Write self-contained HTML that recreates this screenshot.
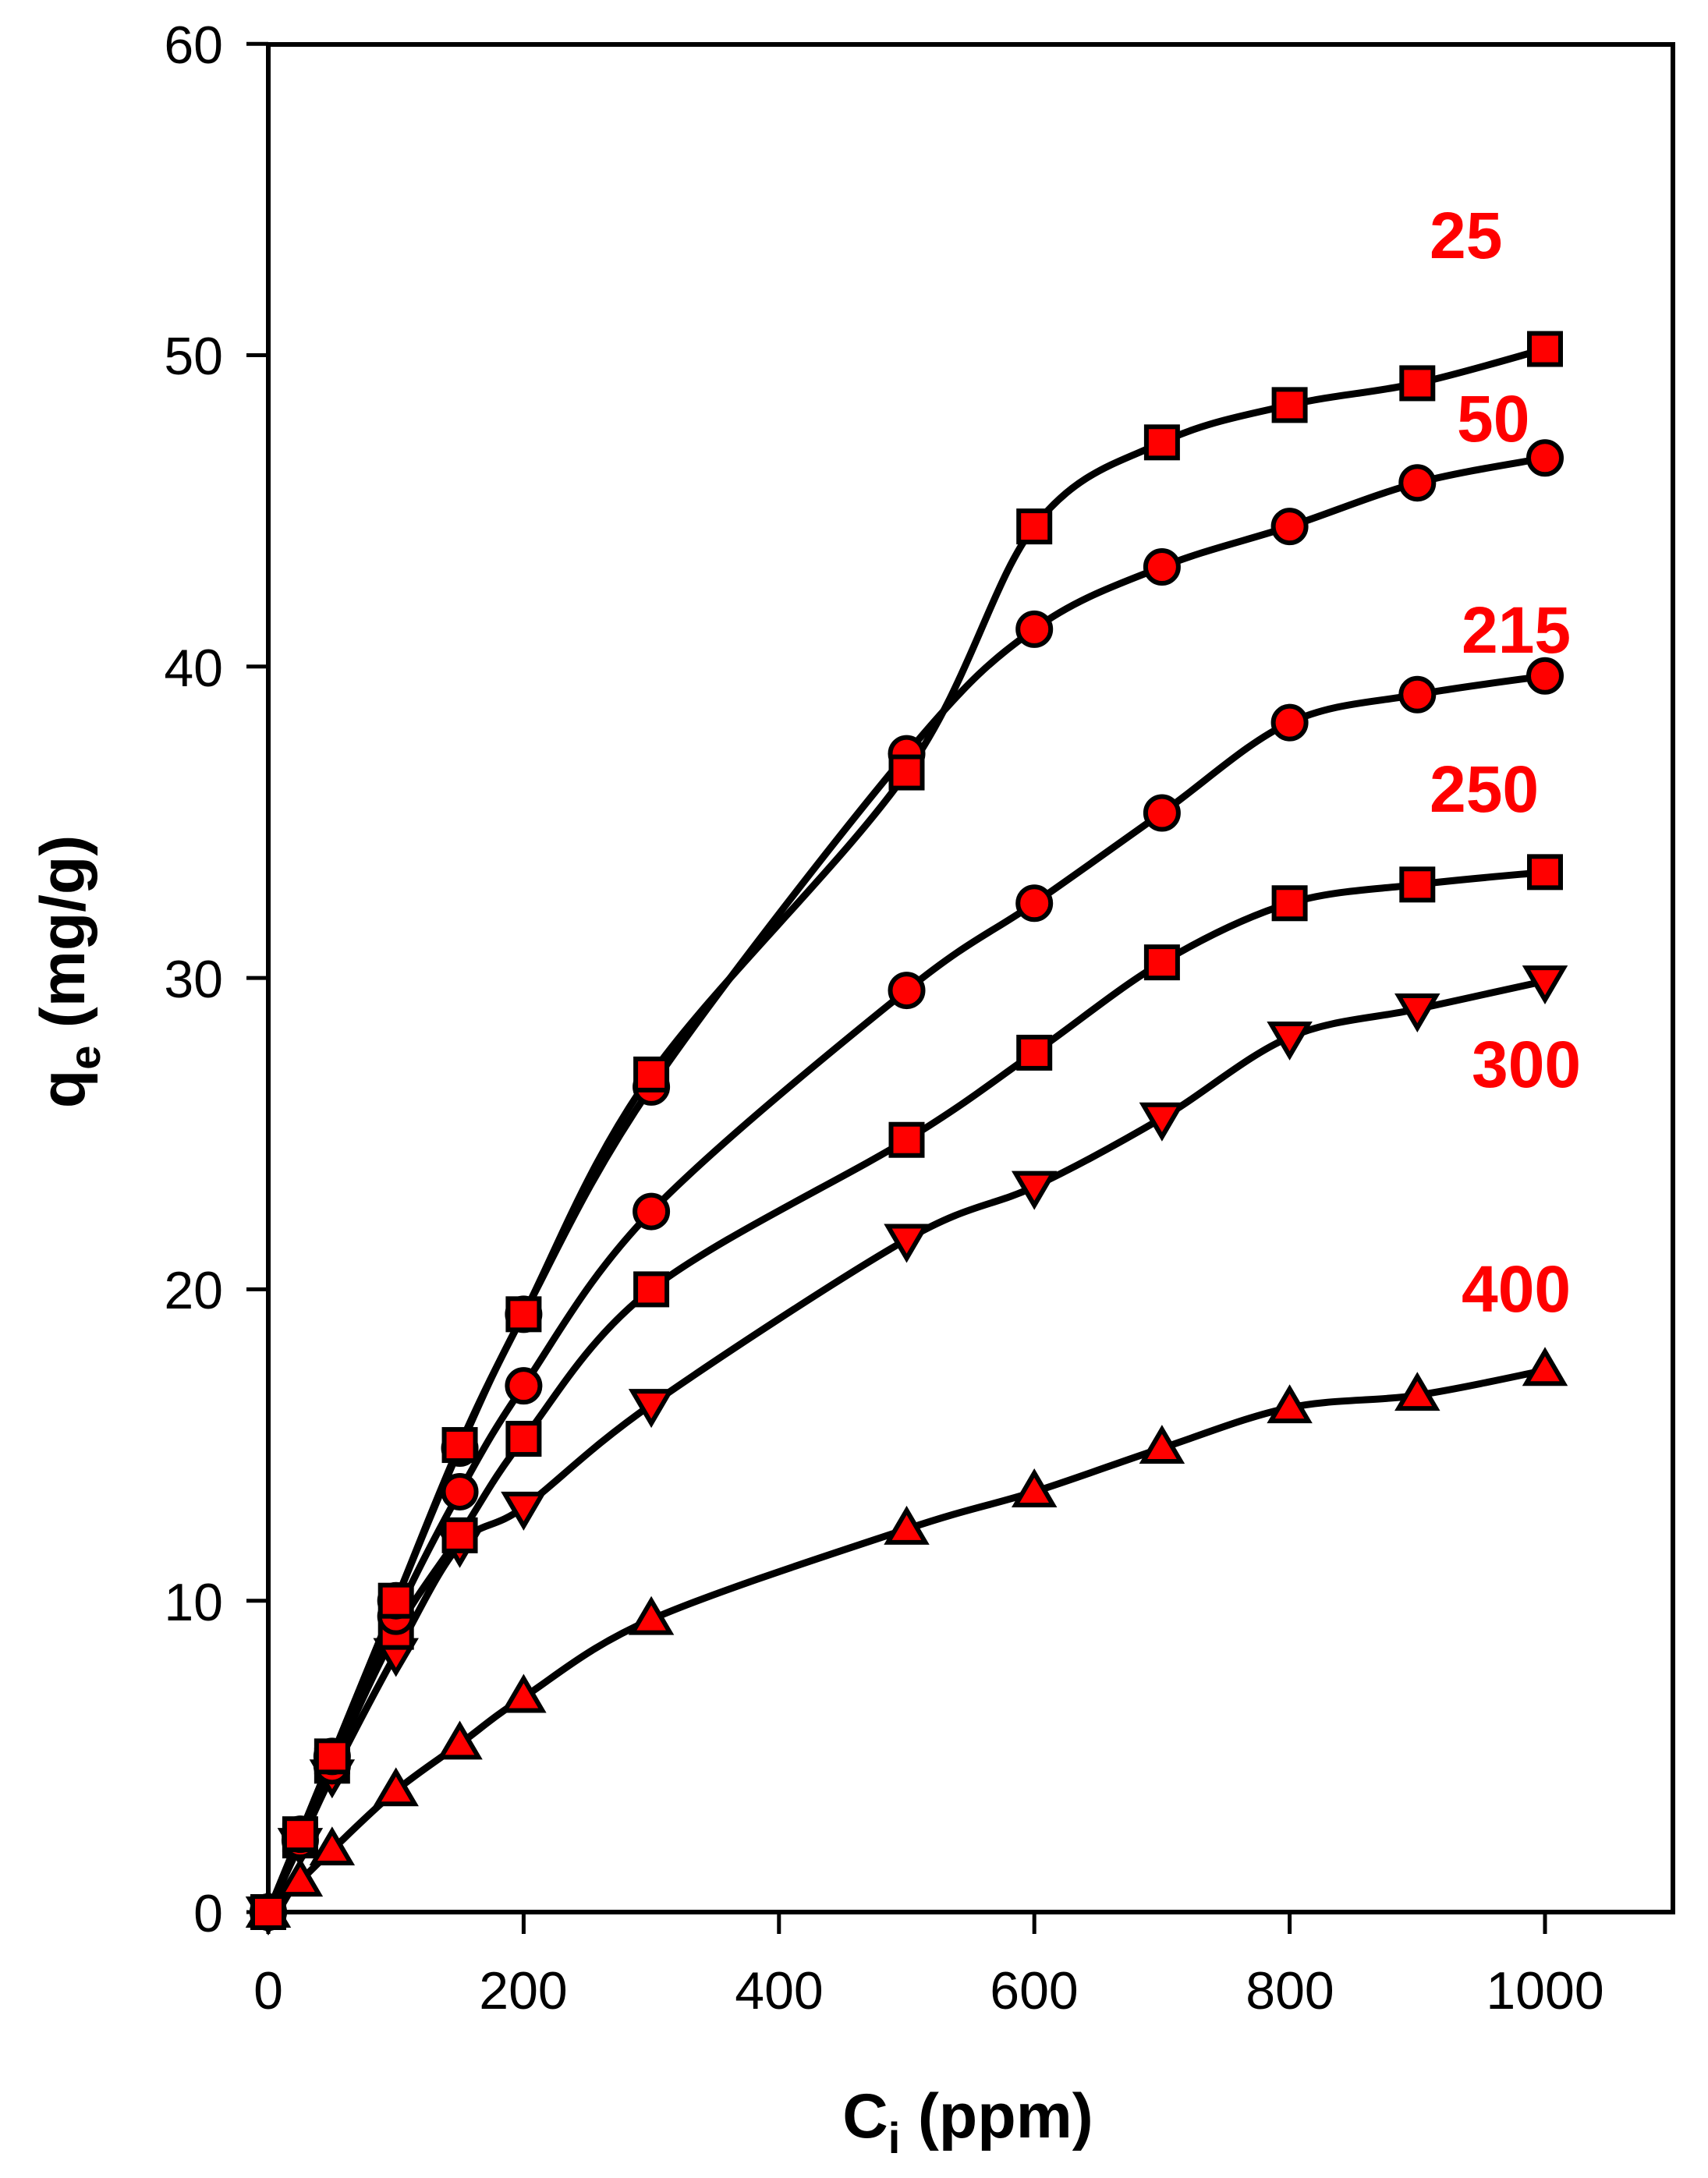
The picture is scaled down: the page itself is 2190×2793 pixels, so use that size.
<!DOCTYPE html>
<html><head><meta charset="utf-8"><style>
html,body{margin:0;padding:0;background:#fff;}
svg{display:block;}
text{font-family:"Liberation Sans",Arial,sans-serif;}
</style></head><body>
<svg id="s" width="2190" height="2793" viewBox="0 0 2190 2793" xmlns="http://www.w3.org/2000/svg">
<rect x="0" y="0" width="2190" height="2793" fill="#fff"/>
<rect x="344" y="57" width="1801" height="2395" fill="none" stroke="#000" stroke-width="6"/>
<g id="ticks" stroke="#000" stroke-width="5"></g>
<g font-size="68" fill="#000" text-anchor="end">
<text x="286" y="2477">0</text>
<text x="286" y="2078">10</text>
<text x="286" y="1678">20</text>
<text x="286" y="1279">30</text>
<text x="286" y="880">40</text>
<text x="286" y="480">50</text>
<text x="286" y="81">60</text>
</g>
<g font-size="68" fill="#000" text-anchor="middle">
<text x="344" y="2576">0</text>
<text x="671" y="2576">200</text>
<text x="999" y="2576">400</text>
<text x="1326" y="2576">600</text>
<text x="1654" y="2576">800</text>
<text x="1981" y="2576">1000</text>
</g>
<text x="1241" y="2741" font-size="81" font-weight="bold" text-anchor="middle">C<tspan font-size="56" dy="20">i</tspan><tspan dy="-20"> (ppm)</tspan></text>
<text transform="translate(108,1246) rotate(-90)" font-size="81" font-weight="bold" text-anchor="middle">q<tspan font-size="56" dy="20">e</tspan><tspan dy="-20">  (mg/g)</tspan></text>
<g id="series"></g>
<g font-size="84" font-weight="bold" fill="#ff0000">
<text x="1833" y="331">25</text>
<text x="1868" y="566">50</text>
<text x="1874" y="837">215</text>
<text x="1833" y="1041">250</text>
<text x="1887" y="1394">300</text>
<text x="1874" y="1682">400</text>
</g>
</svg>
<script>
var NS="http://www.w3.org/2000/svg";
function X(v){return 344+v*1.637;}
function Y(v){return 2452-v*39.93;}
var tk=document.getElementById("ticks");
function ln(x1,y1,x2,y2){var l=document.createElementNS(NS,"line");l.setAttribute("x1",x1);l.setAttribute("y1",y1);l.setAttribute("x2",x2);l.setAttribute("y2",y2);tk.appendChild(l);}
for(var i=0;i<=60;i+=10){ln(316,Y(i),344,Y(i));}
for(var i=0;i<=1000;i+=200){ln(X(i),2452,X(i),2480);}
var xs=[0,25,50,100,150,200,300,500,600,700,800,900,1000];
var S=[
 {m:"tu",d:[0,1.0,2.0,3.9,5.4,6.9,9.4,12.3,13.5,14.9,16.2,16.6,17.4]},
 {m:"td",d:[0,2.2,4.4,8.3,11.8,13.0,16.3,21.6,23.3,25.5,28.1,29.0,29.9]},
 {m:"sq",d:[0,2.3,4.7,9.0,12.1,15.2,20.0,24.8,27.6,30.5,32.4,33.0,33.4]},
 {m:"ci",d:[0,2.3,4.7,9.5,13.5,16.9,22.5,29.6,32.4,35.3,38.2,39.1,39.7]},
 {m:"ci",d:[0,2.5,5.0,10.0,14.9,19.2,26.5,37.2,41.2,43.2,44.5,45.9,46.7]},
 {m:"sq",d:[0,2.5,5.0,10.0,15.0,19.2,26.9,36.6,44.5,47.2,48.4,49.1,50.2]}
];
var g=document.getElementById("series");
function el(n,a){var e=document.createElementNS(NS,n);for(var k in a)e.setAttribute(k,a[k]);g.appendChild(e);return e;}
S.forEach(function(s){
 var p=xs.map(function(x,i){return [X(x),Y(s.d[i])];});
 var d="M"+p[0][0]+","+p[0][1];
 for(var i=0;i<p.length-1;i++){
  var p0=p[Math.max(i-1,0)],p1=p[i],p2=p[i+1],p3=p[Math.min(i+2,p.length-1)];
  var t=1/6;
  var c1=[p1[0]+(p2[0]-p0[0])*t,p1[1]+(p2[1]-p0[1])*t];
  var c2=[p2[0]-(p3[0]-p1[0])*t,p2[1]-(p3[1]-p1[1])*t];
  d+=" C"+c1[0]+","+c1[1]+" "+c2[0]+","+c2[1]+" "+p2[0]+","+p2[1];
 }
 el("path",{d:d,fill:"none",stroke:"#000","stroke-width":9});
});
S.forEach(function(s){
 xs.forEach(function(x,i){
  var cx=X(x),cy=Y(s.d[i]),a={fill:"#ff0000",stroke:"#000","stroke-width":6};
  if(s.m=="sq"){a.x=cx-20;a.y=cy-20;a.width=40;a.height=40;el("rect",a);}
  else if(s.m=="ci"){a.cx=cx;a.cy=cy;a.r=21;el("circle",a);}
  else if(s.m=="tu"){a.points=(cx)+","+(cy-24)+" "+(cx-24)+","+(cy+17)+" "+(cx+24)+","+(cy+17);el("polygon",a);}
  else {a.points=(cx)+","+(cy+24)+" "+(cx-24)+","+(cy-17)+" "+(cx+24)+","+(cy-17);el("polygon",a);}
 });
});
</script>
</body></html>
